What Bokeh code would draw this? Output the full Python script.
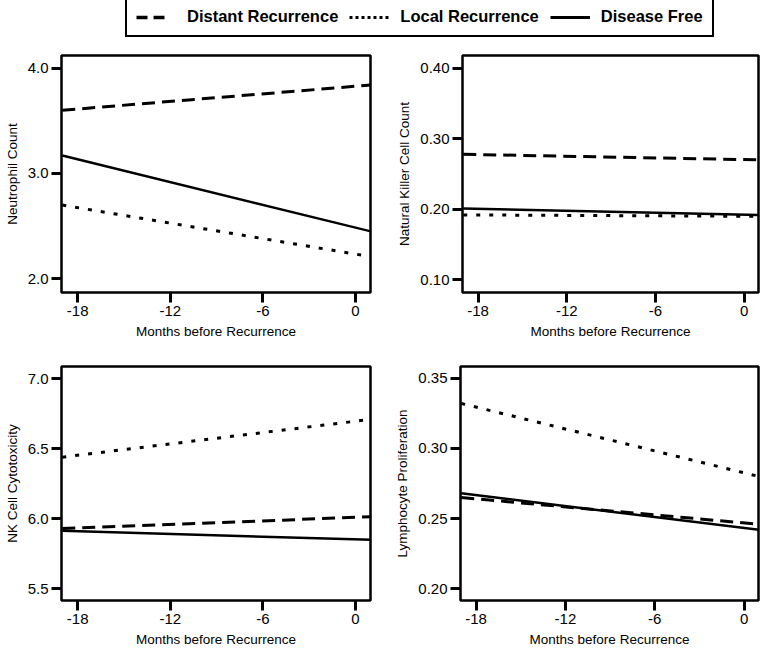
from bokeh.plotting import figure
from bokeh.models import Range1d, FixedTicker, Legend, LegendItem, NumeralTickFormatter
from bokeh.layouts import column, row
from bokeh.embed import file_html
from bokeh.resources import INLINE

# ---------------- data ----------------
months = [-19, 1]
x_ticks = [-18, -12, -6, 0]
x_tick_labels = ["-18", "-12", "-6", "0"]
x_title = "Months before Recurrence"
series_names = ["Distant Recurrence", "Local Recurrence", "Disease Free"]

neut_ticks = [2.0, 3.0, 4.0]
neut_distant = [3.60, 3.84]
neut_local = [2.70, 2.21]
neut_free = [3.17, 2.45]

nkc_ticks = [0.10, 0.20, 0.30, 0.40]
nkc_distant = [0.278, 0.270]
nkc_local = [0.192, 0.190]
nkc_free = [0.201, 0.192]

cyto_ticks = [5.5, 6.0, 6.5, 7.0]
cyto_distant = [5.93, 6.015]
cyto_local = [6.44, 6.71]
cyto_free = [5.915, 5.85]

lymph_ticks = [0.20, 0.25, 0.30, 0.35]
lymph_distant = [0.265, 0.246]
lymph_local = [0.332, 0.280]
lymph_free = [0.268, 0.242]

FONT = "Liberation Sans"
DASHED = "13 7"
DOTTED = "4 9"
NAN = float("nan")


def panel(ylabel, yr, yticks, fmt, distant, local, free, w, h, ml, mr, mt, mb):
    p = figure(width=w, height=h, x_range=Range1d(-19.05, 0.97), y_range=Range1d(*yr),
               output_backend="svg", toolbar_location=None,
               min_border_left=ml, min_border_right=mr, min_border_top=mt, min_border_bottom=mb)
    p.grid.visible = False
    p.outline_line_color = "black"
    p.outline_line_width = 2.5
    p.outline_line_alpha = 1
    p.background_fill_color = "white"
    p.border_fill_color = "white"
    for ax in (p.xaxis[0], p.yaxis[0]):
        ax.axis_line_color = None
        ax.major_tick_out = 10
        ax.major_tick_in = 0
        ax.major_tick_line_width = 3
        ax.major_tick_line_color = "black"
        ax.minor_tick_out = 0
        ax.minor_tick_in = 0
        ax.major_label_text_font = FONT
        ax.major_label_text_font_size = "15px"
        ax.major_label_text_color = "black"
        ax.major_label_standoff = 3
        ax.axis_label_text_font = FONT
        ax.axis_label_text_font_size = "13.5px"
        ax.axis_label_text_font_style = "normal"
        ax.axis_label_text_color = "black"
        ax.axis_label_standoff = 5
    p.xaxis.ticker = FixedTicker(ticks=x_ticks)
    p.xaxis.major_label_overrides = dict(zip(x_ticks, x_tick_labels))
    p.xaxis.axis_label = x_title
    p.yaxis.ticker = FixedTicker(ticks=yticks)
    p.yaxis.formatter = NumeralTickFormatter(format=fmt)
    p.yaxis.axis_label = ylabel
    p.line(months, distant, line_color="black", line_width=3, line_dash=DASHED)
    p.line(months, local, line_color="black", line_width=3, line_dash=DOTTED)
    p.line(months, free, line_color="black", line_width=2.5)
    return p


p1 = panel("Neutrophil Count", (1.87, 4.12), neut_ticks, "0.0",
           neut_distant, neut_local, neut_free, 392, 305, 61, 22, 15, 53)
p2 = panel("Natural Killer Cell Count", (0.082, 0.418), nkc_ticks, "0.00",
           nkc_distant, nkc_local, nkc_free, 368, 305, 70, 2, 15, 53)
p3 = panel("NK Cell Cytotoxicity", (5.417, 7.087), cyto_ticks, "0.0",
           cyto_distant, cyto_local, cyto_free, 392, 304, 61, 22, 21, 47)
p4 = panel("Lymphocyte Proliferation", (0.1917, 0.3583), lymph_ticks, "0.00",
           lymph_distant, lymph_local, lymph_free, 368, 304, 68, 2, 21, 47)

# ---------------- legend strip ----------------
leg = figure(width=760, height=40, x_range=Range1d(0, 1), y_range=Range1d(0, 1),
             output_backend="svg", toolbar_location=None,
             x_axis_location=None, y_axis_location=None, min_border=0)
leg.grid.visible = False
leg.outline_line_color = None
r1 = leg.line(x=[NAN], y=[NAN], line_color="black", line_width=3.5, line_dash="11 6 11 100")
r2 = leg.line(x=[NAN], y=[NAN], line_color="black", line_width=3, line_dash="3 3")
r3 = leg.line(x=[NAN], y=[NAN], line_color="black", line_width=3)
legend = Legend(items=[LegendItem(label=series_names[0], renderers=[r1]),
                       LegendItem(label=series_names[1], renderers=[r2]),
                       LegendItem(label=series_names[2], renderers=[r3])],
                orientation="horizontal", location=(125, 3),
                border_line_color="black", border_line_width=2, border_line_alpha=1,
                padding=9, spacing=11, label_standoff=11, glyph_width=40, glyph_height=18,
                label_height=18, margin=0,
                label_text_font=FONT, label_text_font_style="bold",
                label_text_font_size="16.5px", label_text_color="black")
leg.add_layout(legend)

layout = column(leg, row(p1, p2), row(p3, p4))
open("out.html", "w").write(file_html(layout, INLINE))
